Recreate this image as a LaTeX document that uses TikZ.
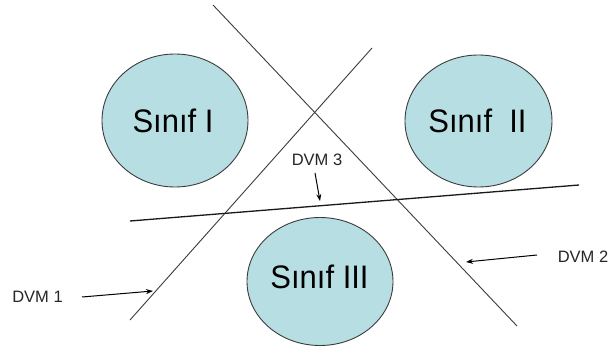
\documentclass[tikz,border=0pt]{standalone}
\usepackage{fontspec}
\setmainfont{Liberation Sans}
\usetikzlibrary{arrows.meta}
\usetikzlibrary{shapes.geometric}
\definecolor{cfill}{RGB}{183,223,227}
\definecolor{cline}{RGB}{60,60,60}
\tikzset{
  cls/.style={draw=cline, line width=0.9pt, fill=cfill, ellipse, inner sep=0pt},
  bigtxt/.style={font=\fontsize{31}{31}\selectfont, anchor=base, inner sep=0pt, yscale=1.05},
  lbl/.style={font=\fontsize{16.5}{16.5}\selectfont, anchor=base, inner sep=0pt, text=black!85},
  sep/.style={draw=cline, line width=0.9pt},
  sep3/.style={draw=black!90, line width=1.3pt},
  ptr/.style={draw=black, line width=1pt, -{Stealth[length=7pt,width=5pt]}}
}
\begin{document}
\begin{tikzpicture}[x=1pt,y=-1pt]
\useasboundingbox (0,0) rectangle (608,350);
\fill[white] (0,0) rectangle (608,350);
% classes
\node[cls, minimum width=146pt, minimum height=133pt] (c1) at (175,120.5) {};
\node[cls, minimum width=147pt, minimum height=132pt] (c2) at (478.5,121) {};
\node[cls, minimum width=146pt, minimum height=128pt] (c3) at (320,281.5) {};
\node[bigtxt] (t1) at (173,133) {Sınıf I};
\node[bigtxt] (t2) at (477.5,132.7) {Sınıf\ \ II};
\node[bigtxt] (t3) at (319.5,288) {Sınıf III};
% separating lines
\coordinate (a1) at (130,320);
\coordinate (b1) at (372,48);
\coordinate (a2) at (213,5);
\coordinate (b2) at (517,326);
\coordinate (a3) at (130,221);
\coordinate (b3) at (579,185);
\draw[sep] (a1) -- (b1);
\draw[sep] (a2) -- (b2);
\draw[sep3] (a3) -- (b3);
% labels
\node[lbl] (l1) at (37.5,302.7) {DVM 1};
\node[lbl] (l2) at (583,262) {DVM 2};
\node[lbl] (l3) at (317,166) {DVM 3};
\coordinate (s1) at (82,297);
\coordinate (e1) at (153,291);
\coordinate (s2) at (537,255);
\coordinate (e2) at (466,262);
\coordinate (s3) at (315,173);
\coordinate (e3) at (320,201);
\draw[ptr] (s1) -- (e1);
\draw[ptr] (s2) -- (e2);
\draw[ptr] (s3) -- (e3);
\end{tikzpicture}
\end{document}
